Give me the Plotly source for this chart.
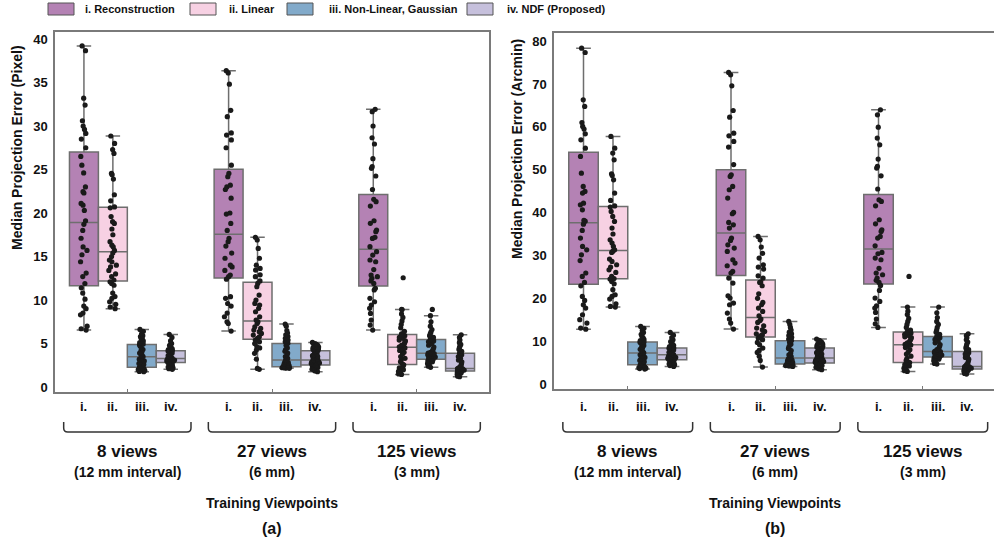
import plotly.graph_objects as go

# ---------------- data ----------------
categories = ["8 views", "27 views", "125 views"]
group_subtitles = ["(12 mm interval)", "(6 mm)", "(3 mm)"]
methods = ["i. Reconstruction", "ii. Linear", "iii. Non-Linear, Gaussian", "iv. NDF (Proposed)"]
short_labels = ["i.", "ii.", "iii.", "iv."]

# (a) Median projection error in pixels
PIX_RECON_8 = [6.55, 6.7, 7.0, 8.3, 8.5, 9.0, 9.3, 10.1, 10.8, 11.4, 11.9, 12.7, 13.1, 14.4, 15.2, 15.7, 16.1, 17.1, 18.0, 18.7,
               19.1, 20.3, 20.9, 21.1, 22.3, 22.45, 23.0, 24.6, 25.5, 26.5, 27.5, 28.5, 29.15, 29.6, 30.0, 30.6, 32.4, 33.2, 38.65, 39.2]
PIX_LIN_8 = [9.0, 9.2, 9.5, 9.8, 10.2, 10.4, 10.8, 11.7, 11.9, 12.1, 12.3, 12.7, 13.0, 13.4, 13.8, 14.0, 14.4, 14.6, 15.0, 15.4,
             15.7, 16.1, 16.3, 16.7, 17.5, 18.16, 18.8, 19.0, 19.6, 20.6, 20.7, 21.4, 22.1, 23.9, 24.4, 24.55, 26.85, 27.3, 28.0, 28.85]
PIX_NL_8 = [1.76, 1.8, 1.9, 2.0, 2.0, 2.1, 2.15, 2.2, 2.2, 2.25, 2.27, 2.4, 2.6, 2.7, 2.9, 3.0, 3.1, 3.2, 3.3, 3.45,
            3.5, 3.6, 3.7, 3.9, 4.0, 4.2, 4.3, 4.5, 4.7, 4.85, 4.95, 5.1, 5.3, 5.5, 5.6, 5.8, 5.9, 6.1, 6.4, 6.62]
PIX_NDF_8 = [2.03, 2.1, 2.2, 2.3, 2.4, 2.5, 2.6, 2.7, 2.75, 2.8, 2.86, 2.9, 2.95, 3.0, 3.05, 3.1, 3.15, 3.2, 3.25, 3.28,
             3.3, 3.4, 3.5, 3.6, 3.7, 3.8, 3.9, 4.0, 4.1, 4.15, 4.19, 4.3, 4.4, 4.5, 4.7, 4.8, 5.0, 5.3, 5.7, 6.05]
PIX_RECON_27 = [6.43, 7.3, 7.5, 8.08, 8.5, 9.3, 9.6, 10.2, 10.38, 12.4, 12.68, 12.87, 13.4, 13.8, 14.0, 14.8, 15.4, 16.2, 16.7, 17.1,
                18.0, 18.8, 19.88, 20.0, 21.7, 22.7, 23.0, 23.2, 24.17, 24.55, 25.5, 27.5, 28.4, 28.96, 29.2, 31.07, 31.8, 34.8, 36.1, 36.36]
PIX_LIN_27 = [2.03, 2.14, 3.2, 3.87, 4.25, 4.5, 4.63, 5.0, 5.2, 5.4, 5.59, 5.78, 5.97, 6.16, 6.36, 6.55, 6.74, 6.93, 7.3, 7.5,
              7.7, 8.08, 8.65, 9.04, 9.42, 9.61, 10.0, 10.57, 11.53, 11.91, 12.2, 12.68, 12.9, 13.44, 13.63, 14.0, 14.8, 15.93, 16.9, 17.2]
PIX_NL_27 = [2.15, 2.18, 2.2, 2.22, 2.25, 2.27, 2.28, 2.3, 2.3, 2.32, 2.34, 2.4, 2.45, 2.5, 2.6, 2.7, 2.8, 2.9, 3.0, 3.08,
             3.12, 3.3, 3.5, 3.7, 3.9, 4.1, 4.3, 4.5, 4.8, 4.98, 5.02, 5.2, 5.4, 5.6, 5.8, 6.0, 6.2, 6.5, 7.0, 7.24]
PIX_NDF_27 = [1.76, 1.85, 1.95, 2.05, 2.15, 2.25, 2.3, 2.38, 2.45, 2.5, 2.54, 2.6, 2.7, 2.75, 2.8, 2.85, 2.9, 2.95, 3.0, 3.08,
              3.12, 3.2, 3.3, 3.4, 3.5, 3.6, 3.7, 3.8, 4.0, 4.15, 4.19, 4.3, 4.4, 4.5, 4.6, 4.7, 4.8, 4.9, 5.0, 5.13]
PIX_RECON_125 = [6.55, 7.12, 7.7, 8.46, 9.04, 9.42, 9.8, 10.19, 11.15, 11.34, 11.91, 12.2, 12.5, 12.68, 12.87, 13.5, 14.4, 14.6, 15.17, 15.55,
                 16.13, 17.08, 17.2, 17.85, 18.04, 18.81, 19.11, 20.8, 21.3, 21.57, 22.7, 24.25, 25.13, 25.32, 26.24, 27.93, 28.65, 30.0, 31.64, 31.91]
PIX_LIN_125 = [1.45, 1.5, 1.6, 1.7, 1.8, 1.9, 2.0, 2.2, 2.4, 2.55, 2.65, 2.9, 3.1, 3.3, 3.5, 3.8, 4.0, 4.2, 4.4, 4.5,
               4.62, 4.8, 4.9, 5.1, 5.3, 5.4, 5.6, 5.7, 5.9, 6.0, 6.1, 6.4, 6.8, 7.2, 7.6, 8.0, 8.4, 8.9, 8.92, 12.56]
PIX_NL_125 = [2.26, 2.4, 2.5, 2.6, 2.7, 2.8, 2.9, 3.0, 3.1, 3.16, 3.2, 3.3, 3.4, 3.45, 3.5, 3.6, 3.65, 3.7, 3.8, 3.85,
              3.9, 4.0, 4.2, 4.4, 4.6, 4.8, 5.0, 5.2, 5.3, 5.45, 5.5, 5.7, 5.9, 6.1, 6.3, 6.6, 7.0, 7.5, 8.2, 8.92]
PIX_NDF_125 = [1.18, 1.25, 1.3, 1.4, 1.45, 1.5, 1.6, 1.7, 1.78, 1.82, 1.84, 1.88, 1.9, 1.95, 2.0, 2.02, 2.05, 2.08, 2.1, 2.13,
               2.15, 2.3, 2.5, 2.7, 2.9, 3.1, 3.3, 3.5, 3.7, 3.85, 3.89, 4.1, 4.3, 4.5, 4.7, 4.9, 5.1, 5.4, 5.7, 6.0]

# (b) Median projection error in arcmin
ARC_RECON_8 = [12.8, 13.04, 14.21, 15.0, 16.15, 17.71, 18.49, 19.5, 20.43, 22.9, 23.7, 25.1, 25.9, 28.8, 30.15, 31.3, 32.1, 34.04, 35.83, 37.3,
               38.0, 38.16, 40.65, 41.8, 42.2, 44.54, 44.93, 46.09, 49.2, 53.09, 55.03, 56.98, 58.38, 59.47, 60.09, 61.02, 64.76, 66.31, 77.35, 78.36]
ARC_LIN_8 = [17.94, 18.1, 18.72, 19.81, 20.43, 20.82, 22.0, 23.39, 23.93, 24.48, 24.62, 25.1, 26.03, 26.65, 27.28, 27.82, 28.6, 29.14, 30.7, 31.0,
             31.32, 32.1, 32.87, 33.65, 35.0, 36.37, 37.93, 39.09, 40.26, 41.3, 41.56, 42.83, 44.54, 47.65, 48.66, 49.05, 52.31, 53.87, 55.03, 57.76]
ARC_NL_8 = [3.48, 3.6, 3.7, 3.8, 3.9, 4.0, 4.1, 4.2, 4.35, 4.45, 4.53, 4.8, 5.2, 5.5, 5.9, 6.2, 6.5, 6.8, 7.0, 7.18,
            7.24, 7.5, 7.8, 8.1, 8.4, 8.7, 9.0, 9.3, 9.6, 9.75, 9.81, 10.1, 10.4, 10.8, 11.2, 11.6, 12.0, 12.5, 13.0, 13.43]
ARC_NDF_8 = [4.1, 4.3, 4.5, 4.7, 4.9, 5.1, 5.3, 5.4, 5.55, 5.64, 5.68, 5.8, 5.9, 6.0, 6.1, 6.2, 6.35, 6.5, 6.65, 6.8,
             6.84, 7.0, 7.2, 7.4, 7.6, 7.8, 7.95, 8.1, 8.25, 8.36, 8.4, 8.7, 9.0, 9.3, 9.6, 9.9, 10.3, 10.8, 11.4, 12.03]
ARC_RECON_27 = [12.81, 14.21, 15.14, 16.54, 18.49, 18.88, 20.04, 20.59, 23.54, 24.71, 25.88, 26.26, 27.59, 28.21, 28.99, 30.93, 31.71, 32.48, 33.5, 34.04,
                36.37, 37.15, 37.7, 39.72, 40.03, 43.37, 45.32, 46.09, 48.43, 48.8, 51.2, 55.27, 56.59, 57.91, 58.53, 62.27, 63.82, 69.58, 72.14, 72.69]
ARC_LIN_27 = [3.95, 5.5, 6.5, 7.37, 7.84, 8.38, 9.16, 9.7, 10.33, 10.71, 11.26, 11.5, 11.72, 12.27, 12.66, 13.04, 13.59, 14.37, 14.8, 15.14,
              15.92, 16.93, 17.71, 18.49, 19.03, 20.0, 21.05, 22.92, 23.7, 23.8, 24.71, 25.25, 26.81, 27.28, 27.82, 29.37, 30.5, 31.94, 33.65, 34.43]
ARC_NL_27 = [4.1, 4.2, 4.25, 4.3, 4.35, 4.4, 4.45, 4.5, 4.55, 4.62, 4.68, 4.8, 4.9, 5.0, 5.2, 5.4, 5.6, 5.8, 5.9, 6.02,
             6.08, 6.4, 6.8, 7.2, 7.8, 8.3, 8.8, 9.3, 9.7, 10.05, 10.13, 10.5, 10.9, 11.3, 11.7, 12.1, 12.6, 13.2, 13.9, 14.6]
ARC_NDF_27 = [3.33, 3.5, 3.7, 3.9, 4.1, 4.3, 4.5, 4.65, 4.75, 4.86, 4.9, 5.0, 5.1, 5.25, 5.4, 5.5, 5.65, 5.8, 5.9, 6.03,
              6.07, 6.3, 6.5, 6.8, 7.0, 7.3, 7.6, 7.9, 8.1, 8.36, 8.4, 8.6, 8.8, 9.0, 9.3, 9.5, 9.7, 10.0, 10.2, 10.48]
ARC_RECON_125 = [13.2, 14.06, 15.14, 16.7, 17.71, 18.26, 19.27, 20.04, 21.83, 23.0, 23.7, 24.2, 24.71, 25.49, 25.88, 27.0, 28.99, 29.37, 30.39, 30.7,
                 32.25, 34.04, 34.43, 35.6, 35.98, 37.38, 38.32, 41.58, 42.59, 42.98, 45.5, 48.58, 50.37, 50.76, 52.47, 55.81, 57.37, 59.93, 62.81, 63.98]
ARC_LIN_125 = [2.94, 3.1, 3.3, 3.5, 3.7, 3.9, 4.2, 4.5, 4.8, 5.0, 5.06, 5.5, 6.0, 6.5, 7.0, 7.5, 8.0, 8.5, 8.9, 9.1,
               9.22, 9.6, 10.0, 10.4, 10.8, 11.0, 11.3, 11.6, 11.9, 12.08, 12.14, 12.6, 13.2, 13.9, 14.6, 15.3, 16.2, 17.0, 17.94, 25.1]
ARC_NL_125 = [4.65, 4.8, 5.0, 5.2, 5.4, 5.6, 5.8, 6.0, 6.15, 6.26, 6.3, 6.45, 6.6, 6.75, 6.9, 7.05, 7.2, 7.35, 7.45, 7.58,
              7.62, 8.0, 8.4, 8.8, 9.2, 9.6, 10.0, 10.4, 10.8, 11.08, 11.12, 11.6, 12.1, 12.6, 13.2, 13.9, 14.6, 15.5, 16.6, 17.94]
ARC_NDF_125 = [2.32, 2.45, 2.6, 2.75, 2.9, 3.0, 3.15, 3.3, 3.4, 3.46, 3.5, 3.56, 3.62, 3.7, 3.76, 3.82, 3.88, 3.94, 4.0, 4.08,
               4.12, 4.5, 5.0, 5.5, 5.8, 6.2, 6.6, 7.0, 7.3, 7.58, 7.62, 8.0, 8.4, 8.8, 9.3, 9.8, 10.3, 10.8, 11.3, 11.72]

pixel_series = [
    [PIX_RECON_8, PIX_RECON_27, PIX_RECON_125],
    [PIX_LIN_8, PIX_LIN_27, PIX_LIN_125],
    [PIX_NL_8, PIX_NL_27, PIX_NL_125],
    [PIX_NDF_8, PIX_NDF_27, PIX_NDF_125],
]
arcmin_series = [
    [ARC_RECON_8, ARC_RECON_27, ARC_RECON_125],
    [ARC_LIN_8, ARC_LIN_27, ARC_LIN_125],
    [ARC_NL_8, ARC_NL_27, ARC_NL_125],
    [ARC_NDF_8, ARC_NDF_27, ARC_NDF_125],
]

# ---------------- style ----------------
W, H = 994, 544
FONT = "Liberation Sans, Arial, Helvetica, sans-serif"
COLORS = ["#B482B4", "#F7D1E3", "#82AACA", "#C6C0DC"]
BOX_LINE = "#6E6E6E"
AXIS_LINE = "#7A7A7A"
POINT = "#1A1A1A"
TEXT = "#111111"


def px_x(p):
    return p / W


def px_y(p):
    return (H - p) / H


fig = go.Figure()

panels = [
    dict(series=pixel_series, xa="x", ya="y", align="pix"),
    dict(series=arcmin_series, xa="x2", ya="y2", align="arc"),
]
for panel in panels:
    for m, groups in enumerate(panel["series"]):
        xs, ys = [], []
        for cat, vals in zip(categories, groups):
            xs += [cat] * len(vals)
            ys += vals
        fig.add_trace(go.Box(
            x=xs, y=ys, name=methods[m],
            xaxis=panel["xa"], yaxis=panel["ya"],
            alignmentgroup=panel["align"], offsetgroup="m%d" % m,
            fillcolor=COLORS[m],
            line=dict(color=BOX_LINE, width=1.5),
            marker=dict(color=POINT, size=5.2, line=dict(width=0)),
            boxpoints="all", jitter=0.3, pointpos=0,
            whiskerwidth=0.5, showlegend=False,
        ))

axis_common = dict(showgrid=False, zeroline=False, showline=True, linecolor=AXIS_LINE, linewidth=1.5)
xcommon = dict(axis_common, type="category", categoryorder="array", categoryarray=categories,
               ticks="inside", ticklen=3, tickcolor=AXIS_LINE, showticklabels=False)
ycommon = dict(axis_common, ticks="", tickfont=dict(family=FONT, size=13, color=TEXT, weight="bold"),
               ticklabelstandoff=3)

fig.update_layout(
    width=W, height=H,
    margin=dict(l=0, r=0, t=0, b=0),
    paper_bgcolor="white", plot_bgcolor="white",
    template="none",
    boxmode="group", boxgap=0.2, boxgroupgap=0.0,
    font=dict(family=FONT, color=TEXT),
    xaxis=dict(xcommon, domain=[px_x(55), px_x(489)], range=[-0.5, 2.5], mirror=True, anchor="y"),
    yaxis=dict(ycommon, domain=[px_y(392), px_y(32)], range=[-0.57, 40.8],
               tickvals=[0, 5, 10, 15, 20, 25, 30, 35, 40], mirror=True, anchor="x"),
    xaxis2=dict(xcommon, domain=[px_x(554), 1.0], range=[-0.5, 2.483], mirror=True, anchor="y2"),
    yaxis2=dict(ycommon, domain=[px_y(389), px_y(33)], range=[-1.17, 81.9],
                tickvals=[0, 10, 20, 30, 40, 50, 60, 70, 80], mirror=False, anchor="x2"),
)

annotations = []
shapes = []


def label(text, xref, x, ypx, size, xanchor="center"):
    return dict(text="<b>%s</b>" % text, xref=xref, yref="paper", x=x, y=px_y(ypx),
                xanchor=xanchor, yanchor="middle", showarrow=False,
                font=dict(size=size, family=FONT, color=TEXT))


# y-axis titles
for txt, xp, yp in [("Median Projection Error (Pixel)", 17, 148), ("Median Projection Error (Arcmin)", 517, 149)]:
    annotations.append(dict(text="<b>%s</b>" % txt, xref="paper", yref="paper",
                            x=px_x(xp), y=px_y(yp), xanchor="center", yanchor="middle",
                            textangle=-90, showarrow=False,
                            font=dict(size=14, family=FONT, color=TEXT)))

# per-box labels, braces, group labels
offsets = [-0.3, -0.1, 0.1, 0.3]
for xa, tag in [("x", "(a)"), ("x2", "(b)")]:
    for g, cat in enumerate(categories):
        for k, lab in enumerate(short_labels):
            annotations.append(label(lab, xa, g + offsets[k], 406, 13))
        x0, x1 = g - 0.44, g + 0.44
        r = 0.028
        yt, yb, yc = px_y(422), px_y(432), px_y(428)
        path = (f"M {x0},{yt} L {x0},{yc} Q {x0},{yb} {x0 + r},{yb} "
                f"L {x1 - r},{yb} Q {x1},{yb} {x1},{yc} L {x1},{yt}")
        shapes.append(dict(type="path", xref=xa, yref="paper", path=path,
                           line=dict(color="#333333", width=1.5)))
        annotations.append(label(cat, xa, g, 452, 17))
        annotations.append(label(group_subtitles[g], xa, g, 472, 14))
    annotations.append(label("Training Viewpoints", xa, 1, 503, 14))
    annotations.append(label(tag, xa, 1, 528, 16))

# legend row (manual)
legend_swatch_x = [48, 190, 287, 467]
legend_text_x = [83, 227, 327, 505]
for m in range(4):
    shapes.append(dict(type="rect", xref="paper", yref="paper",
                       x0=px_x(legend_swatch_x[m]), x1=px_x(legend_swatch_x[m] + 26),
                       y0=px_y(15), y1=px_y(3), fillcolor=COLORS[m],
                       line=dict(color="#555555", width=1)))
    annotations.append(dict(text="<b>%s</b>" % methods[m], xref="paper", yref="paper",
                            x=px_x(legend_text_x[m]), y=px_y(9), xanchor="left", yanchor="middle",
                            showarrow=False, font=dict(size=11, family=FONT, color=TEXT)))

fig.update_layout(annotations=annotations, shapes=shapes)
fig.write_html("out.html")
